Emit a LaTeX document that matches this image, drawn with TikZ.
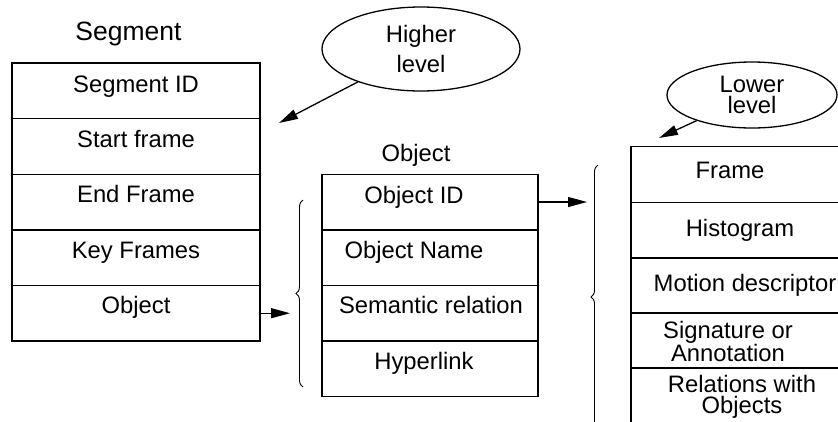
\documentclass[tikz,border=0pt]{standalone}
\usepackage{fontspec}
\setmainfont{Liberation Sans}
\usetikzlibrary{arrows.meta,decorations.pathreplacing,shapes.geometric}
\begin{document}
\begin{tikzpicture}[x=1pt,y=-1pt,
  font=\fontsize{23.8}{21}\selectfont,
  cell/.style={draw, line width=1.4pt, minimum height=55.6pt, inner sep=0pt, outer sep=0pt},
  segcell/.style={cell, minimum width=248pt},
  objcell/.style={cell, minimum width=216pt},
  lowcell/.style={cell, minimum width=224pt},
  txt/.style={inner sep=0pt, align=center, text height=16.5pt, text depth=4.5pt},
  ell/.style={draw, ellipse, line width=1.3pt, inner sep=0pt, align=center},
  arr/.style={line width=1.3pt, -{Triangle[length=19pt,width=10pt]}},
  brc/.style={decorate, decoration={brace, amplitude=7pt, aspect=0.5}, line width=0.9pt}
]
\useasboundingbox (0,0) rectangle (838,421);

% Segment table
\node[txt, font=\fontsize{26.5}{26}\selectfont] (segl) at (128.5,34) {Segment};
\node[segcell] (s1) at (136,90.8) {};
\node[segcell] (s2) at (136,146.4) {};
\node[segcell] (s3) at (136,202) {};
\node[segcell] (s4) at (136,257.6) {};
\node[segcell] (s5) at (136,313.2) {};
\node[txt] at ([yshift=4pt]s1.center) {Segment ID};
\node[txt] at ([yshift=5pt]s2.center) {Start frame};
\node[txt] at ([yshift=6pt]s3.center) {End Frame};
\node[txt] at ([yshift=5pt]s4.center) {Key Frames};
\node[txt] at ([yshift=6pt]s5.center) {Object};

% Object table
\node[txt] (objl) at (416,155) {Object};
\node[objcell] (o1) at (430,202) {};
\node[objcell] (o2) at (430,257.5) {};
\node[objcell] (o3) at (430,313) {};
\node[objcell] (o4) at (430,368.5) {};
\node[txt] at ([xshift=-16pt,yshift=5pt]o1.center) {Object ID};
\node[txt] at ([xshift=-16pt,yshift=5pt]o2.center) {Object Name};
\node[txt] at ([xshift=1pt,yshift=6pt]o3.center) {Semantic relation};
\node[txt] at ([xshift=-6pt,yshift=5pt]o4.center) {Hyperlink};

% Lower-level table
\node[lowcell] (f1) at (743,174.5) {};
\node[lowcell] (f2) at (743,230) {};
\node[lowcell] (f3) at (743,285.5) {};
\node[lowcell] (f4) at (743,340.5) {};
\node[lowcell] (f5) at (743,395.5) {};
\node[txt] at ([xshift=-13pt,yshift=2pt]f1.center) {Frame};
\node[txt] at ([xshift=-3pt,yshift=0pt]f2.center) {Histogram};
\node[txt] at ([xshift=2pt,yshift=0pt]f3.center) {Motion descriptor};
\node[inner sep=0pt, align=center] at ([xshift=-15pt,yshift=-1pt]f4.center) {Signature or\\Annotation};
\node[inner sep=0pt, align=center] at ([xshift=-1pt,yshift=-1pt]f5.center) {Relations with\\Objects};

% Ellipses
\node[ell, minimum width=198pt, minimum height=84pt] (hi) at (421,49) {Higher\\[6pt]level};
\node[ell, minimum width=170pt, minimum height=66pt] (lo) at (752,95) {Lower\\level};

\coordinate (hiTip) at (279,123);
\coordinate (loTip) at (659,138);
\draw[arr] (hi) -- (hiTip);
\draw[arr] (lo) -- (loTip);

% Braces and arrows
\coordinate (b1top) at (303,200);
\coordinate (b1bot) at (303,387);
\coordinate (b2top) at (598,165);
\coordinate (b2bot) at (598,429);
\draw[brc] (b1bot) -- (b1top);
\draw[brc] (b2bot) -- (b2top);

\coordinate (objTip) at (290,313.2);
\coordinate (oidTip) at (587,202);
\draw[arr] (s5.east) -- (objTip);
\draw[arr] (o1.east) -- (oidTip);
\end{tikzpicture}
\end{document}
